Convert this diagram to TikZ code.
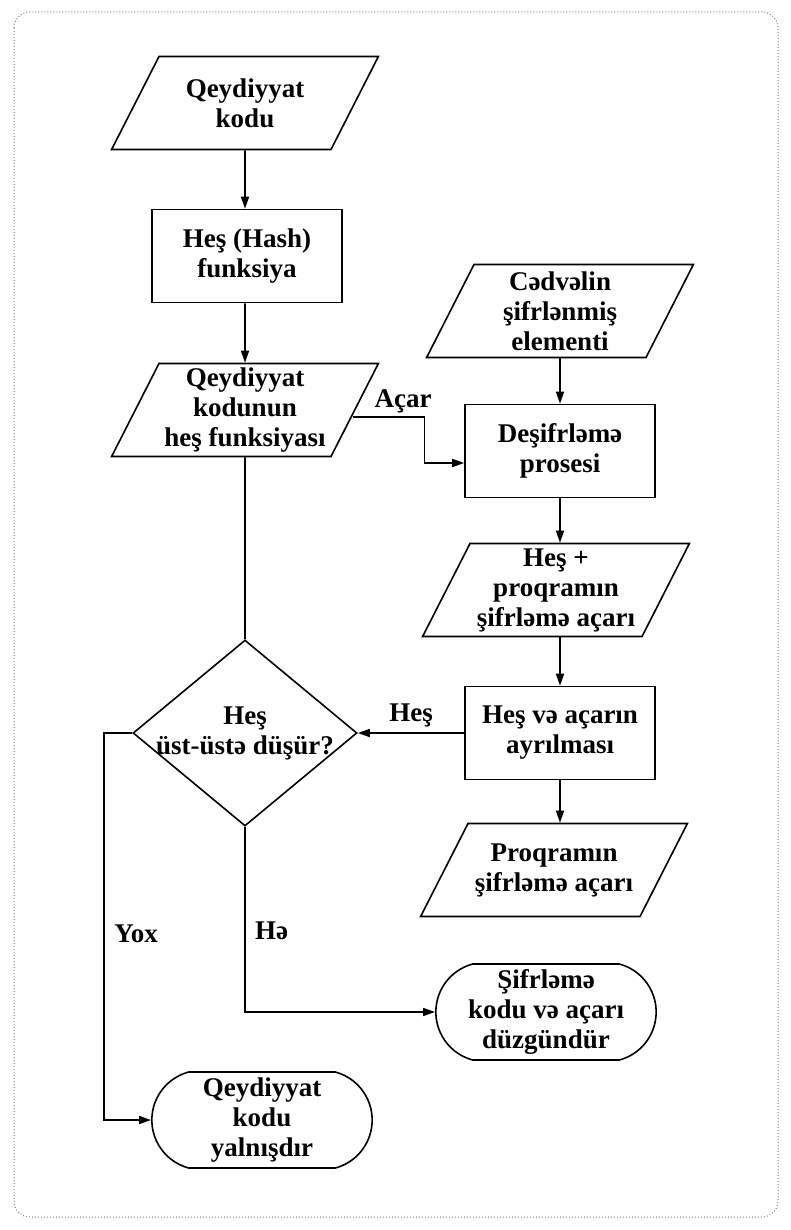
\documentclass[tikz,border=0pt]{standalone}
\usepackage{fontspec}
\setmainfont{Liberation Serif}
\usetikzlibrary{shapes.geometric,shapes.misc,arrows.meta}

\begin{document}
\begin{tikzpicture}[x=1pt,y=-1pt,
  every node/.style={font=\bfseries\fontsize{27}{30}\selectfont},
  line/.style={line width=1.6pt},
  arr/.style={line width=1.6pt,-{Triangle[length=12pt,width=8pt]}},
  dataio/.style={draw,line width=1.6pt,trapezium,trapezium left angle=63,trapezium right angle=117,inner sep=2pt,
    execute at begin node={\begin{minipage}[c][89pt][c]{168pt}\centering},
    execute at end node={\end{minipage}}},
  proc/.style={draw,line width=1.6pt,rectangle,minimum width=190pt,minimum height=93pt,align=center},
  decision/.style={draw,line width=1.6pt,diamond,minimum width=224pt,minimum height=186pt,inner sep=0pt},
  term/.style={draw,line width=1.6pt,rounded rectangle,rounded rectangle arc length=150,
    minimum width=227pt,minimum height=96pt,align=center}]
  \useasboundingbox (0,0) rectangle (791,1230);
  \draw[gray,dotted,line width=1pt,rounded corners=16pt] (14,12) rectangle (778,1217);

  \node[dataio] (kod) at (245,103) {Qeydiyyat\\kodu};
  \node[proc] (hash) at (247,256) {Heş (Hash)\\funksiya};
  \node[dataio] (heskod) at (245,410) {Qeydiyyat\\kodunun\\heş funksiyası};
  \node[decision] (match) at (245,733) {\makebox[0pt]{\begin{tabular}{@{}c@{}}Heş\\üst-üstə düşür?\end{tabular}}};

  \node[dataio] (cedvel) at (560,311) {Cədvəlin\\şifrlənmiş\\elementi};
  \node[proc] (desifr) at (560,451) {Deşifrləmə\\prosesi};
  \node[dataio] (hesacar) at (556,590) {Heş +\\proqramın\\şifrləmə açarı};
  \node[proc] (ayir) at (560,733) {Heş və açarın\\ayrılması};
  \node[dataio] (acar) at (554,870) {Proqramın\\şifrləmə açarı};

  \node[term] (duz) at (546,1012) {Şifrləmə\\kodu və açarı\\düzgündür};
  \node[term] (yanlis) at (262,1120) {Qeydiyyat\\kodu\\yalnışdır};

  \draw[arr] (kod) -- (kod |- hash.north);
  \draw[arr] (kod |- hash.south) -- (heskod);
  \draw[line] (heskod) -- (match);
  \draw[arr] (cedvel.south -| desifr) -- (desifr);
  \draw[arr] (desifr) -- (desifr |- hesacar.north);
  \draw[arr] (desifr |- hesacar.south) -- (ayir);
  \draw[arr] (ayir) -- (ayir |- acar.north);
  \draw[arr] ([shift={(-3pt,-7pt)}]heskod.east) -- node[above,pos=0.7] {Açar} ++(72,0) |- ([yshift=-12pt]desifr.west);
  \draw[arr] (ayir) -- node[above=2pt] {Heş} (match);
  \draw[arr] (match.west) -- ++(-28,0) |- node[pos=0.26,right=6pt] {Yox} (yanlis.west);
  \draw[arr] (match.south) |- node[pos=0.28,right=6pt] {Hə} (duz.west);
\end{tikzpicture}
\end{document}
